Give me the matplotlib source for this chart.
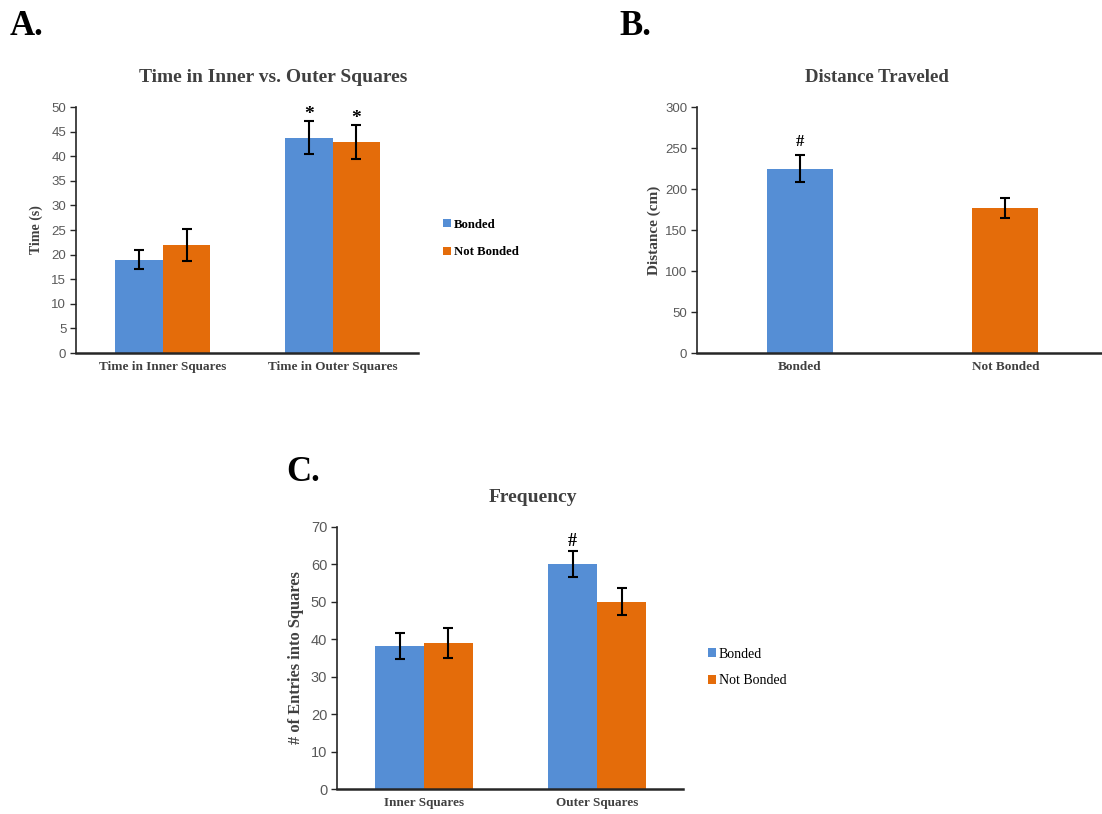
import matplotlib.pyplot as plt
import numpy as np

# panel A: time in squares
cats_a = ['Time in Inner Squares', 'Time in Outer Squares']
bonded_a = [19.0, 43.8]
bonded_a_err = [1.9, 3.3]
notb_a = [22.0, 42.9]
notb_a_err = [3.2, 3.4]
marks_a = [['', '*'], ['', '*']]

# panel B: distance
cats_b = ['Bonded', 'Not Bonded']
dist_b = [225, 177]
dist_b_err = [17, 12.5]
marks_b = ['#', '']

# panel C: frequency
cats_c = ['Inner Squares', 'Outer Squares']
bonded_c = [38.2, 60.0]
bonded_c_err = [3.5, 3.5]
notb_c = [39.0, 50.0]
notb_c_err = [4.0, 3.6]
marks_c = [['', '#'], ['', '']]

blue = '#558ED5'
orange = '#E46C0A'
serif = 'Liberation Serif'
sans = 'Liberation Sans'
tick_col = '#595959'
title_col = '#404040'

fig = plt.figure(figsize=(11.02, 8.14), dpi=100)


def style_axes(ax):
    for s in ['top', 'right']:
        ax.spines[s].set_visible(False)
    ax.spines['left'].set_color('#262626')
    ax.spines['bottom'].set_color('#262626')
    ax.spines['left'].set_linewidth(1.2)
    ax.spines['bottom'].set_linewidth(1.8)
    ax.tick_params(axis='x', length=0, pad=6)
    ax.tick_params(axis='y', length=4, width=1, color='#262626',
                   labelcolor=tick_col, labelsize=9.5, pad=3)
    for lab in ax.get_yticklabels():
        lab.set_fontfamily(sans)


def grouped(ax, cats, b, be, n, ne, marks, w, off, ms, fs):
    x = np.arange(len(cats))
    ax.bar(x - w / 2, b, w, color=blue, label='Bonded')
    ax.bar(x + w / 2, n, w, color=orange, label='Not Bonded')
    ax.errorbar(x - w / 2, b, yerr=be, fmt='none', ecolor='black',
                elinewidth=1.5, capsize=3.5, capthick=1.5)
    ax.errorbar(x + w / 2, n, yerr=ne, fmt='none', ecolor='black',
                elinewidth=1.5, capsize=3.5, capthick=1.5)
    for i in range(len(cats)):
        if marks[0][i]:
            ax.text(x[i] - w / 2, b[i] + be[i] + off, marks[0][i],
                    ha='center', va='bottom', fontsize=ms,
                    fontweight='bold', family=serif)
        if marks[1][i]:
            ax.text(x[i] + w / 2, n[i] + ne[i] + off, marks[1][i],
                    ha='center', va='bottom', fontsize=ms,
                    fontweight='bold', family=serif)
    ax.set_xticks(x)
    ax.set_xticklabels(cats, fontfamily=serif, fontweight='bold',
                       fontsize=fs, color=title_col)


# ---- A ----
axa = fig.add_axes([0.069, 0.5663, 0.310, 0.3022])
grouped(axa, cats_a, bonded_a, bonded_a_err, notb_a, notb_a_err,
        marks_a, 0.28, -0.3, 14, 9.5)
axa.set_xlim(-0.51, 1.5)
axa.set_ylim(0, 50)
axa.set_yticks(range(0, 51, 5))
style_axes(axa)
axa.set_ylabel('Time (s)', fontfamily=serif, fontweight='bold',
               fontsize=10, color=title_col, labelpad=6)
axa.set_title('Time in Inner vs. Outer Squares', fontfamily=serif,
              fontweight='bold', fontsize=14, color=title_col, pad=18,
              x=0.576)
axa.legend(loc='center left', bbox_to_anchor=(0.392, 0.707),
           bbox_transform=fig.transFigure, frameon=False,
           handlelength=0.6, handleheight=0.6, handletextpad=0.2,
           labelspacing=1.25,
           prop={'family': serif, 'weight': 'bold', 'size': 9.2})

# ---- B ----
axb = fig.add_axes([0.6325, 0.5663, 0.3675, 0.3022])
xb = np.arange(len(cats_b))
axb.bar(xb, dist_b, 0.32, color=[blue, orange])
axb.errorbar(xb, dist_b, yerr=dist_b_err, fmt='none', ecolor='black',
             elinewidth=1.5, capsize=3.5, capthick=1.5)
for i in range(len(cats_b)):
    if marks_b[i]:
        axb.text(xb[i], dist_b[i] + dist_b_err[i] + 6, marks_b[i],
                 ha='center', va='bottom', fontsize=12,
                 fontweight='bold', family=serif)
axb.set_xticks(xb)
axb.set_xticklabels(cats_b, fontfamily=serif, fontweight='bold',
                    fontsize=9.5, color=title_col)
axb.set_xlim(-0.5, 1.47)
axb.set_ylim(0, 300)
axb.set_yticks(range(0, 301, 50))
style_axes(axb)
axb.set_ylabel('Distance (cm)', fontfamily=serif, fontweight='bold',
               fontsize=11, color=title_col, labelpad=3)
axb.set_title('Distance Traveled', fontfamily=serif, fontweight='bold',
              fontsize=13.5, color=title_col, pad=18, x=0.445)

# ---- C ----
axc = fig.add_axes([0.3058, 0.0307, 0.314, 0.322])
grouped(axc, cats_c, bonded_c, bonded_c_err, notb_c, notb_c_err,
        marks_c, 0.283, 0.3, 13, 9.5)
axc.set_xlim(-0.503, 1.497)
axc.set_ylim(0, 70)
axc.set_yticks(range(0, 71, 10))
style_axes(axc)
axc.tick_params(axis='y', labelsize=10.5)
axc.set_ylabel('# of Entries into Squares', fontfamily=serif,
               fontweight='bold', fontsize=11.8, color=title_col, labelpad=5)
axc.set_title('Frequency', fontfamily=serif, fontweight='bold',
              fontsize=14, color=title_col, pad=18, x=0.566)
axc.legend(loc='center left', bbox_to_anchor=(0.631, 0.18),
           bbox_transform=fig.transFigure, frameon=False,
           handlelength=0.6, handleheight=0.6, handletextpad=0.2,
           labelspacing=1.0,
           prop={'family': serif, 'size': 10})

# panel letters
fig.text(0.009, 0.957, 'A.', fontfamily=serif, fontweight='bold', fontsize=25,
         va='baseline')
fig.text(0.562, 0.957, 'B.', fontfamily=serif, fontweight='bold', fontsize=25,
         va='baseline')
fig.text(0.260, 0.409, 'C.', fontfamily=serif, fontweight='bold', fontsize=25,
         va='baseline')

fig.savefig('out.png', dpi=100)
